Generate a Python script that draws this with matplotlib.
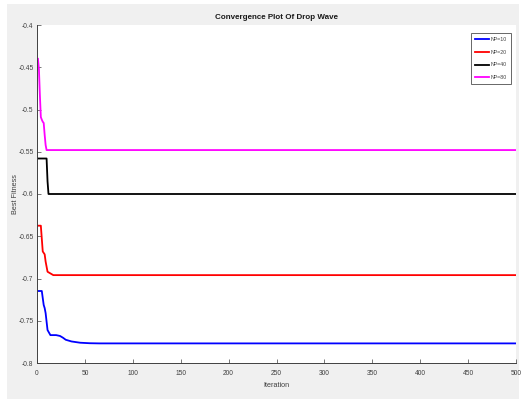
import matplotlib
matplotlib.use("Agg")
import matplotlib.pyplot as plt
from matplotlib.patches import Rectangle

plt.rcParams['font.family'] = ['Liberation Sans', 'DejaVu Sans']

# Best fitness per iteration (breakpoints of each convergence curve)
np10_iter = [1, 5, 7, 8, 9, 11, 14, 20, 24, 27, 30, 36, 45, 55, 65, 500]
np10_fit = [-0.7148, -0.7148, -0.7314, -0.735, -0.741, -0.761, -0.767, -0.767,
            -0.768, -0.770, -0.7725, -0.7745, -0.776, -0.7766, -0.7768, -0.7768]

np20_iter = [1, 4, 6, 8, 9, 11, 14, 17, 500]
np20_fit = [-0.6375, -0.6375, -0.668, -0.6714, -0.680, -0.692, -0.694, -0.696, -0.696]

np40_iter = [1, 10, 11, 12, 500]
np40_fit = [-0.558, -0.558, -0.585, -0.600, -0.600]

np80_iter = [1, 2, 3, 4, 5, 6, 7, 8, 9, 10, 500]
np80_fit = [-0.440, -0.452, -0.483, -0.509, -0.512, -0.5145, -0.516, -0.530, -0.542, -0.548, -0.548]

series_labels = ['NP=10', 'NP=20', 'NP=40', 'NP=80']
series_colors = ['#0000ff', '#ff0000', '#000000', '#ff00ff']

x_ticks = [0, 50, 100, 150, 200, 250, 300, 350, 400, 450, 500]
y_ticks = [-0.8, -0.75, -0.7, -0.65, -0.6, -0.55, -0.5, -0.45, -0.4]
y_tick_labels = ['-0.8', '-0.75', '-0.7', '-0.65', '-0.6', '-0.55', '-0.5', '-0.45', '-0.4']

fig = plt.figure(figsize=(5.21, 3.99), dpi=100, facecolor='white')
fig.patches.append(Rectangle((7 / 521, 0), 512 / 521, 395 / 399, transform=fig.transFigure,
                             facecolor='#f0f0f0', edgecolor='none', zorder=-10))

ax = fig.add_axes([37 / 521, 1 - 363 / 399, 479 / 521, 338 / 399])
ax.set_zorder(1)
ax.set_facecolor('white')

curves = [(np10_iter, np10_fit), (np20_iter, np20_fit), (np40_iter, np40_fit), (np80_iter, np80_fit)]
for (xs, ys), lab, col in zip(curves, series_labels, series_colors):
    ax.plot(xs, ys, color=col, lw=1.3, label=lab)

ax.set_xlim(0, 500)
ax.set_ylim(-0.8, -0.4)
ax.set_xticks(x_ticks)
ax.set_xticklabels([str(t) for t in x_ticks])
ax.set_yticks(y_ticks)
ax.set_yticklabels(y_tick_labels)

for side in ['top', 'right']:
    ax.spines[side].set_visible(False)
for side in ['left', 'bottom']:
    ax.spines[side].set_color('#404040')
    ax.spines[side].set_linewidth(0.7)

ax.tick_params(direction='in', length=3, width=0.5, colors='#404040', labelsize=4.8)
ax.tick_params(axis='x', pad=5)
ax.tick_params(axis='y', pad=2.5)

ax.set_title('Convergence Plot Of Drop Wave', fontsize=5.8, fontweight='bold', pad=4.5, color='#1a1a1a')
ax.set_xlabel('Iteration', fontsize=5.2, color='#404040')
ax.set_ylabel('Best Fitness', fontsize=5.2, color='#404040')
ax.xaxis.set_label_coords(0.5, -0.055)
ax.yaxis.set_label_coords(-0.038, 0.5)

leg = ax.legend(loc='upper right', bbox_to_anchor=(0.989, 0.976), fontsize=3.8,
                frameon=True, fancybox=False, edgecolor='#404040', handlelength=2.6,
                handletextpad=0.3, labelspacing=1.45, borderpad=0.75, borderaxespad=0)
leg.get_frame().set_linewidth(0.7)
for t in leg.get_texts():
    t.set_color('#404040')

fig.savefig('out.png', dpi=100, facecolor=fig.get_facecolor())
